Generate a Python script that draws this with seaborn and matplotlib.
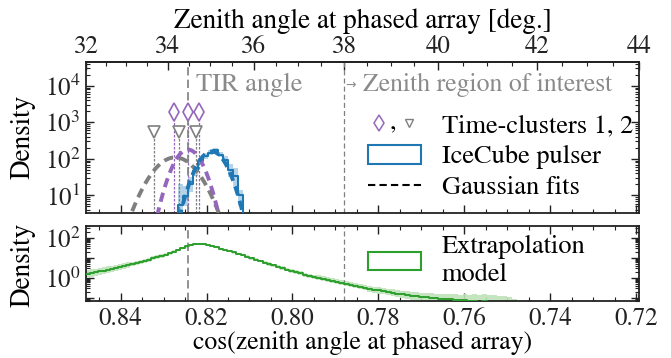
import numpy as np
import matplotlib
matplotlib.use("Agg")
import matplotlib.pyplot as plt
import seaborn as sns
from matplotlib import ticker
from matplotlib.lines import Line2D
from matplotlib.patches import Rectangle
from matplotlib.text import Text

# ---------------- data ----------------
zenith_range_deg = [32.0, 44.0]
zenith_ticks_deg = [32, 34, 36, 38, 40, 42, 44]
cos_ticks = [0.84, 0.82, 0.80, 0.78, 0.76, 0.74, 0.72]
cos_tick_labels = ["0.84", "0.82", "0.80", "0.78", "0.76", "0.74", "0.72"]

tir_angle_deg = 34.47
roi_angle_deg = 38.0

cluster1_angles_deg = [34.16, 34.47, 34.74]
cluster1_density = [1900, 1900, 1900]
cluster2_angles_deg = [33.68, 34.28, 34.68]
cluster2_density = [560, 560, 560]

pulser_edges_cos = [0.8116, 0.8127, 0.8139, 0.8150, 0.8162, 0.8173, 0.8185,
                    0.8197, 0.8208, 0.8220, 0.8231, 0.8243, 0.8255, 0.8267]
# read left (high cos) to right (low cos); reversed below to match ascending edges
pulser_log10_left_to_right = [0.75, 0.98, 1.30, 1.66, 1.93, 2.07, 2.17, 2.25, 2.12, 1.98, 1.70, 1.52, 1.02]
pulser_log10_lo_left_to_right = [0.45, 0.70, 1.10, 1.52, 1.83, 1.99, 2.10, 2.19, 2.05, 1.89, 1.50, 1.25, 0.72]
pulser_log10_hi_left_to_right = [1.30, 1.25, 1.50, 1.80, 2.03, 2.15, 2.24, 2.31, 2.19, 2.07, 1.85, 1.76, 1.15]

fit_center_cos = [0.8273, 0.8243, 0.8188]
fit_sigma_cos = [0.00384, 0.00249, 0.00260]
fit_peak_density = [110, 180, 160]

extrap_first_edge_deg = 32.0
extrap_bin_width_deg = 0.1
extrap_log10 = [
    0.20, 0.24, 0.28, 0.33, 0.37, 0.42, 0.46, 0.51, 0.55, 0.60,
    0.65, 0.70, 0.75, 0.80, 0.86, 0.92, 0.98, 1.04, 1.10, 1.16,
    1.23, 1.31, 1.40, 1.49, 1.58,
    1.66, 1.70, 1.70, 1.68, 1.64,
    1.59, 1.53, 1.47, 1.41, 1.35, 1.28, 1.21, 1.14, 1.06, 0.99,
    0.92, 0.85, 0.77, 0.70, 0.63, 0.56, 0.49, 0.42, 0.36, 0.29,
    0.23, 0.17, 0.12, 0.07, 0.02, -0.03, -0.08, -0.13, -0.18, -0.23,
    -0.28, -0.33, -0.38, -0.43, -0.48, -0.53, -0.58, -0.62, -0.66, -0.70,
    -0.74, -0.78, -0.82, -0.86, -0.89, -0.92, -0.95, -0.97, -1.00, -1.02,
    -1.04, -1.07, -1.05, -1.10, -1.12, -1.09, -1.15, -1.13, -1.18, -1.16,
    -1.22, -1.20, -1.26, -1.30, -1.35, -1.45, -1.55]
extrap_log10_halfwidth = [
    0.20, 0.19, 0.18, 0.17, 0.17, 0.16, 0.15, 0.15, 0.14, 0.13,
    0.13, 0.12, 0.12, 0.11, 0.11, 0.10, 0.10, 0.09, 0.09, 0.08,
    0.08, 0.07, 0.07, 0.06, 0.06, 0.05, 0.05, 0.05, 0.05, 0.05,
    0.05, 0.05, 0.05, 0.05, 0.06, 0.06, 0.06, 0.06, 0.07, 0.07,
    0.07, 0.07, 0.08, 0.08, 0.08, 0.08, 0.09, 0.09, 0.09, 0.09,
    0.10, 0.10, 0.10, 0.10, 0.11, 0.11, 0.11, 0.12, 0.12, 0.12,
    0.13, 0.13, 0.13, 0.14, 0.14, 0.15, 0.15, 0.16, 0.16, 0.17,
    0.17, 0.18, 0.18, 0.19, 0.20, 0.20, 0.21, 0.22, 0.23, 0.24,
    0.25, 0.26, 0.27, 0.28, 0.29, 0.30, 0.31, 0.32, 0.33, 0.34,
    0.35, 0.36, 0.37, 0.38, 0.39, 0.40, 0.41]

# ---------------- style ----------------
BLUE = "#1f77b4"
PURPLE = "#9467bd"
GRAY = "#7f7f7f"
GREEN = "#2ca02c"
FS_TICK = 18
FS_LEG = 19
FS_LAB = 19.5
FS_NOTE = 18.5
SERIF = ["STIXGeneral", "DejaVu Serif"]

sns.set_theme(style="ticks")
plt.rcParams.update({
    "font.family": SERIF,
    "mathtext.fontset": "stix",
    "font.size": FS_TICK,
    "axes.labelsize": FS_LAB,
    "xtick.labelsize": FS_TICK,
    "ytick.labelsize": FS_TICK,
    "legend.fontsize": FS_LEG,
    "axes.linewidth": 1.3,
    "axes.edgecolor": "#222222",
    "xtick.direction": "in",
    "ytick.direction": "in",
    "xtick.major.size": 6, "ytick.major.size": 6,
    "xtick.minor.size": 3, "ytick.minor.size": 3,
    "xtick.major.width": 1.0, "ytick.major.width": 1.0,
    "xtick.minor.width": 0.8, "ytick.minor.width": 0.8,
    "xtick.major.pad": 4, "ytick.major.pad": 4,
    "xtick.color": "#222222", "ytick.color": "#222222",
    "text.color": "black", "axes.labelcolor": "black",
})


def deg2cos(d):
    return np.cos(np.radians(d))


def cos2deg(c):
    return np.degrees(np.arccos(np.clip(c, -1.0, 1.0)))


fig = plt.figure(figsize=(6.71, 3.58), dpi=100)
ax1 = fig.add_axes([0.1282, 0.4064, 0.8241, 0.4213])
ax2 = fig.add_axes([0.1282, 0.1592, 0.8241, 0.2095])

xlim = (deg2cos(zenith_range_deg[0]), deg2cos(zenith_range_deg[1]))
for ax in (ax1, ax2):
    ax.set_yscale("log")
    ax.set_facecolor("white")

ylim1 = (3.4, 4.6e4)
ylim2 = (0.07, 400)

# ---- upper panel ----
edges = np.array(pulser_edges_cos)
vals = np.array(pulser_log10_left_to_right)[::-1]
lo = np.array(pulser_log10_lo_left_to_right)[::-1]
hi = np.array(pulser_log10_hi_left_to_right)[::-1]
ax1.fill_between(edges, 10 ** np.append(lo, lo[-1]), 10 ** np.append(hi, hi[-1]),
                 step="post", color="#a9cde6", alpha=0.85, lw=0, zorder=1)
# step outline, dropping to below the axis at both ends
base = ylim1[0] * 0.01
pad_w = edges[1] - edges[0]
step_x = np.concatenate([[edges[0] - pad_w], edges, [edges[-1] + pad_w]])
step_y = np.concatenate([[base], 10 ** vals, [base, base]])
sns.lineplot(x=step_x, y=step_y, drawstyle="steps-post", color=BLUE, lw=1.5, ax=ax1,
             zorder=3, estimator=None, sort=False)

xs = np.linspace(0.800, 0.850, 600)
fit_colors = [GRAY, PURPLE, BLUE]
for mu, sg, pk, col in zip(fit_center_cos, fit_sigma_cos, fit_peak_density, fit_colors):
    ys = pk * np.exp(-0.5 * ((xs - mu) / sg) ** 2)
    sns.lineplot(x=xs, y=ys, ax=ax1, color=col, lw=2.8, zorder=4, estimator=None, sort=False)
    ax1.lines[-1].set_linestyle((0, (2.4, 1.5)))

ax1.set_ylim(*ylim1)
c1 = deg2cos(np.array(cluster1_angles_deg))
c2 = deg2cos(np.array(cluster2_angles_deg))
ax1.vlines(c1, ylim1[0], cluster1_density, colors=PURPLE, linestyles=(0, (2, 1.2)), lw=0.9, zorder=2)
ax1.vlines(c2, ylim1[0], cluster2_density, colors=GRAY, linestyles=(0, (2, 1.2)), lw=0.9, zorder=2)
ax1.plot(c1, cluster1_density, ls="none", marker="d", ms=9, mfc="white", mec=PURPLE, mew=1.2, zorder=5)
ax1.plot(c2, cluster2_density, ls="none", marker="v", ms=8, mfc="white", mec=GRAY, mew=1.2, zorder=5)

# ---- lower panel ----
n_ex = len(extrap_log10)
ex_edges = deg2cos(extrap_first_edge_deg + extrap_bin_width_deg * np.arange(n_ex + 1))
ex_vals = np.array(extrap_log10)
ex_hw = np.array(extrap_log10_halfwidth)
ax2.fill_between(ex_edges, 10 ** np.append(ex_vals - ex_hw, ex_vals[-1] - ex_hw[-1]),
                 10 ** np.append(ex_vals + ex_hw, ex_vals[-1] + ex_hw[-1]),
                 step="post", color="#bfe3b9", alpha=0.9, lw=0, zorder=1)
sns.lineplot(x=ex_edges, y=10 ** np.append(ex_vals, ex_vals[-1]), drawstyle="steps-post",
             color=GREEN, lw=1.4, ax=ax2, zorder=3, estimator=None, sort=False)
ax2.set_ylim(*ylim2)

# vertical reference lines
for ax in (ax1, ax2):
    ax.axvline(deg2cos(tir_angle_deg), color=GRAY, lw=1.2, ls=(0, (5, 2.5)), zorder=2)
    ax.axvline(deg2cos(roi_angle_deg), color=GRAY, lw=0.9, ls=(0, (4, 2.5)), zorder=2)
    ax.set_xlim(*xlim)

ax1.annotate("TIR angle", xy=(deg2cos(tir_angle_deg), 0.845), xycoords=("data", "axes fraction"),
             xytext=(6, 0), textcoords="offset points", ha="left", va="center",
             color="#8a8a8a", fontsize=FS_LEG)
ax1.annotate("\u2192", xy=(deg2cos(roi_angle_deg), 0.845), xycoords=("data", "axes fraction"),
             xytext=(1, 0), textcoords="offset points", ha="left", va="center",
             color="#8a8a8a", fontsize=9, family="DejaVu Sans")
ax1.annotate("Zenith region of interest", xy=(deg2cos(roi_angle_deg), 0.845),
             xycoords=("data", "axes fraction"), xytext=(14, 0), textcoords="offset points",
             ha="left", va="center", color="#8a8a8a", fontsize=FS_NOTE)

# ---- ticks & axes ----
for ax in (ax1, ax2):
    ax.xaxis.set_major_locator(ticker.FixedLocator(cos_ticks))
    ax.xaxis.set_minor_locator(ticker.MultipleLocator(0.005))
    ax.yaxis.set_major_locator(ticker.LogLocator(base=10, numticks=20))
    ax.yaxis.set_minor_locator(ticker.LogLocator(base=10, subs=np.arange(2, 10), numticks=20))
    ax.yaxis.set_minor_formatter(ticker.NullFormatter())
    ax.tick_params(axis="y", which="both", left=True, right=True)
    for s in ax.spines.values():
        s.set_visible(True)

ax1.tick_params(axis="x", which="both", bottom=True, top=False, labelbottom=False)
ax2.tick_params(axis="x", which="both", bottom=True, top=True)
ax2.xaxis.set_major_formatter(ticker.FixedFormatter(cos_tick_labels))


def even_decades(v, pos):
    e = int(round(np.log10(v)))
    return r"$\mathdefault{10^{%d}}$" % e if e % 2 == 0 else ""


ax2.yaxis.set_major_formatter(ticker.FuncFormatter(even_decades))

secax = ax1.secondary_xaxis("top", functions=(cos2deg, deg2cos))
secax.set_xticks(zenith_ticks_deg)
secax.xaxis.set_minor_locator(ticker.MultipleLocator(0.5))
secax.tick_params(axis="x", which="both", direction="in", pad=2)
secax.set_xlabel("Zenith angle at phased array [deg.]", labelpad=5, fontsize=FS_LAB)

ax1.set_ylabel("Density")
ax2.set_ylabel("Density")
ax1.yaxis.set_label_coords(-0.092, 0.5)
ax2.yaxis.set_label_coords(-0.092, 0.48)
ax2.set_xlabel("cos(zenith angle at phased array)", fontsize=18.5)
ax2.xaxis.set_label_coords(0.5, -0.40)


# ---- legends ----
class ClusterKey:
    pass


class ClusterHandler:
    def legend_artist(self, legend, orig_handle, fontsize, handlebox):
        x0 = -handlebox.xdescent
        w, h = handlebox.width, handlebox.height
        yc = (h - handlebox.ydescent) / 2
        d = Line2D([x0 + 0.21 * w], [yc], ls="none", marker="d", ms=8, mfc="white",
                   mec=PURPLE, mew=1.1)
        t = Text(x0 + 0.47 * w, yc, ",", ha="center", va="center", fontsize=fontsize,
                 family=SERIF)
        v = Line2D([x0 + 0.77 * w], [yc], ls="none", marker="v", ms=6, mfc="white",
                   mec=GRAY, mew=1.0)
        for a in (d, t, v):
            handlebox.add_artist(a)
        return d


h_cluster = ClusterKey()
h_pulser = Rectangle((0, 0), 1, 1, facecolor="white", edgecolor=BLUE, lw=1.5)
h_fit = Line2D([], [], color="black", lw=1.5, ls=(0, (3.5, 2)))
ax1.legend([h_cluster, h_pulser, h_fit], ["Time-clusters 1, 2", "IceCube pulser", "Gaussian fits"],
           handler_map={ClusterKey: ClusterHandler()}, loc="center left",
           bbox_to_anchor=(0.51, 0.368), frameon=False, borderpad=0, borderaxespad=0,
           handlelength=2.0, handleheight=0.72, handletextpad=0.8, labelspacing=0.24)

h_ex = Rectangle((0, 0), 1, 1, facecolor="white", edgecolor=GREEN, lw=1.5)
ax2.legend([h_ex], ["Extrapolation\nmodel"], loc="center left", bbox_to_anchor=(0.51, 0.53),
           frameon=False, borderpad=0, borderaxespad=0, handlelength=2.0, handleheight=0.72,
           handletextpad=0.8)

fig.savefig("out.png", dpi=100)
